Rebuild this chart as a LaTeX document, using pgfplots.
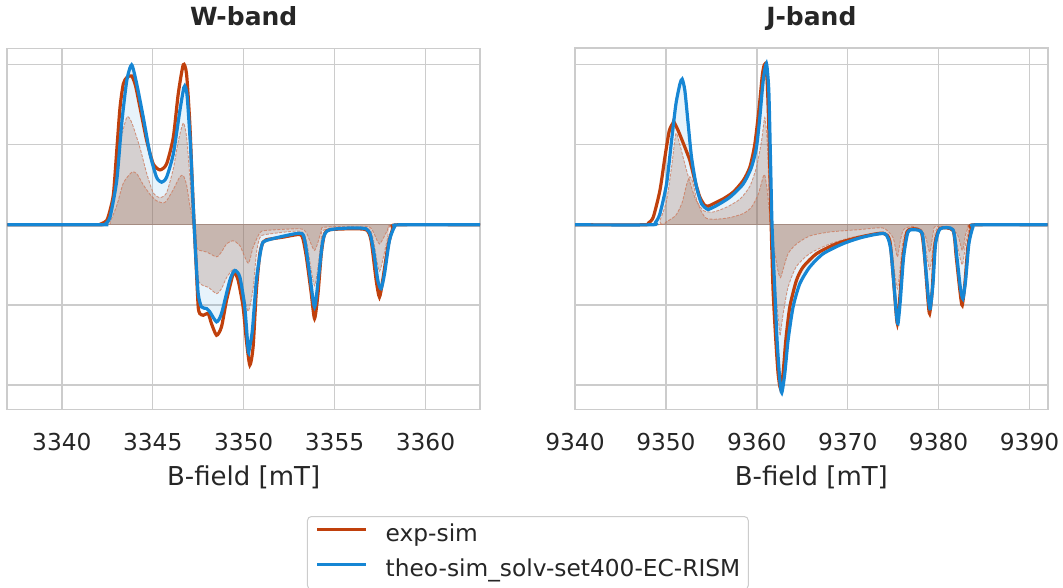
\documentclass[border=0pt]{standalone}
\usepackage{fontspec}
\setmainfont{DejaVu Sans}
\usepackage{pgfplots}
\usepackage{pgfplotstable}
\pgfplotsset{compat=1.18}

\definecolor{expc}{RGB}{192,64,12}
\definecolor{theoc}{RGB}{22,134,212}
\definecolor{gridc}{RGB}{204,204,204}
\definecolor{txtc}{RGB}{38,38,38}
\definecolor{brownc}{RGB}{158,105,80}
\definecolor{compc}{RGB}{205,120,90}
\definecolor{zeroc}{RGB}{165,140,130}

% ---------------- W-band data ----------------
\pgfplotstableread{
x y
3337 0
3342.0 0
3342.2 0.008
3342.47 0.027
3342.65 0.09
3342.84 0.193
3343.02 0.463
3343.20 0.733
3343.38 0.879
3343.57 0.920
3343.84 0.930
3344.05 0.87
3344.30 0.733
3344.67 0.525
3345.03 0.380
3345.40 0.343
3345.76 0.380
3346.13 0.546
3346.40 0.816
3346.68 1.0
3346.86 0.941
3347.04 0.629
3347.19 0.215
3347.32 -0.098
3347.41 -0.305
3347.50 -0.513
3347.59 -0.555
3347.78 -0.565
3348.05 -0.555
3348.23 -0.617
3348.51 -0.690
3348.78 -0.638
3349.06 -0.471
3349.42 -0.305
3349.51 -0.300
3349.70 -0.347
3349.97 -0.513
3350.15 -0.721
3350.34 -0.876
3350.52 -0.762
3350.70 -0.409
3350.89 -0.181
3351.07 -0.108
3351.25 -0.093
3352.17 -0.077
3353.08 -0.060
3353.26 -0.087
3353.45 -0.201
3353.72 -0.430
3353.90 -0.586
3354.09 -0.430
3354.27 -0.181
3354.45 -0.056
3354.73 -0.031
3355.83 -0.025
3356.74 -0.031
3357.01 -0.098
3357.29 -0.347
3357.47 -0.451
3357.65 -0.347
3357.93 -0.139
3358.20 -0.025
3358.48 0
3363 0
}\Worange

\pgfplotstableread{
x y
3337 0
3342.3 0
3342.38 0.004
3342.65 0.048
3343.02 0.277
3343.29 0.629
3343.57 0.899
3343.84 0.999
3344.12 0.879
3344.48 0.671
3344.85 0.442
3345.21 0.297
3345.49 0.266
3345.76 0.297
3346.13 0.442
3346.49 0.712
3346.71 0.858
3346.80 0.860
3346.90 0.795
3347.08 0.484
3347.23 0.110
3347.37 -0.201
3347.50 -0.430
3347.68 -0.513
3347.96 -0.523
3348.14 -0.544
3348.51 -0.606
3348.78 -0.555
3349.24 -0.347
3349.51 -0.285
3349.79 -0.326
3350.06 -0.513
3350.25 -0.783
3350.30 -0.783
3350.48 -0.659
3350.70 -0.347
3350.98 -0.139
3351.25 -0.098
3353.08 -0.052
3353.36 -0.098
3353.63 -0.305
3353.90 -0.513
3354.14 -0.305
3354.36 -0.098
3354.73 -0.031
3356.74 -0.025
3357.11 -0.139
3357.38 -0.347
3357.56 -0.399
3357.75 -0.305
3358.02 -0.098
3358.29 -0.015
3358.57 0
3363 0
}\Wtheo

\pgfplotstableread{
x y
3337 0
3342.2 0
3342.47 0.02
3342.84 0.15
3343.20 0.50
3343.57 0.671
3343.84 0.64
3344.30 0.48
3344.67 0.32
3345.03 0.20
3345.40 0.17
3345.76 0.20
3346.13 0.35
3346.40 0.52
3346.68 0.636
3346.86 0.55
3347.04 0.30
3347.19 0.05
3347.32 -0.20
3347.50 -0.35
3347.78 -0.38
3348.05 -0.39
3348.51 -0.43
3348.78 -0.40
3349.06 -0.33
3349.42 -0.28
3349.70 -0.31
3349.97 -0.42
3350.25 -0.54
3350.52 -0.40
3350.70 -0.18
3350.89 -0.08
3351.25 -0.06
3353.08 -0.04
3353.45 -0.10
3353.90 -0.38
3354.27 -0.10
3354.45 -0.03
3356.74 -0.02
3357.11 -0.08
3357.47 -0.29
3357.93 -0.08
3358.29 0
3363 0
}\WcompA

\pgfplotstableread{
x y
3337 0
3342.3 0
3342.65 0.02
3343.02 0.12
3343.38 0.26
3343.84 0.328
3344.12 0.32
3344.48 0.25
3344.85 0.19
3345.21 0.15
3345.58 0.137
3345.76 0.15
3346.13 0.22
3346.49 0.30
3346.68 0.307
3346.86 0.25
3347.04 0.12
3347.23 0.0
3347.41 -0.14
3347.59 -0.16
3347.96 -0.17
3348.51 -0.20
3348.78 -0.17
3349.06 -0.12
3349.42 -0.10
3349.79 -0.13
3350.25 -0.24
3350.52 -0.14
3350.89 -0.05
3351.25 -0.035
3353.08 -0.025
3353.45 -0.05
3353.90 -0.16
3354.27 -0.04
3354.45 -0.015
3356.74 -0.01
3357.11 -0.04
3357.47 -0.12
3357.93 -0.03
3358.29 0
3363 0
}\WcompB

% ---------------- J-band data ----------------
\pgfplotstableread{
x y
9340 0
9347.6 0
9348.1 0.012
9348.61 0.048
9349.34 0.214
9349.89 0.422
9350.37 0.587
9350.81 0.639
9350.88 0.643
9351.36 0.587
9352.09 0.484
9352.64 0.401
9353.19 0.276
9353.74 0.172
9354.29 0.120
9354.65 0.116
9355.20 0.131
9356.30 0.162
9357.40 0.204
9358.50 0.276
9359.23 0.359
9359.78 0.503
9360.26 0.733
9360.62 0.941
9360.88 1.003
9361.14 0.899
9361.36 0.525
9361.58 0.0
9361.79 -0.409
9362.09 -0.721
9362.34 -0.928
9362.60 -1.022
9362.89 -0.928
9363.19 -0.721
9363.63 -0.513
9364.36 -0.347
9365.09 -0.264
9366.56 -0.181
9368.75 -0.118
9371.32 -0.077
9373.88 -0.052
9374.62 -0.098
9374.98 -0.305
9375.27 -0.513
9375.46 -0.617
9375.71 -0.471
9376.08 -0.201
9376.52 -0.046
9377.18 -0.025
9378.10 -0.046
9378.46 -0.201
9378.83 -0.471
9379.01 -0.555
9379.30 -0.409
9379.56 -0.139
9380.11 -0.025
9381.58 -0.035
9381.94 -0.201
9382.38 -0.430
9382.60 -0.503
9382.89 -0.368
9383.22 -0.139
9383.59 -0.025
9383.96 0
9392 0
}\Jorange

\pgfplotstableread{
x y
9340 0
9348.4 0
9348.85 0.015
9349.34 0.069
9350.07 0.255
9350.62 0.525
9351.10 0.754
9351.54 0.879
9351.79 0.910
9352.09 0.837
9352.45 0.629
9352.82 0.421
9353.37 0.235
9353.92 0.131
9354.47 0.100
9354.65 0.095
9355.57 0.120
9357.03 0.172
9358.50 0.255
9359.41 0.359
9359.96 0.484
9360.33 0.671
9360.70 0.899
9361.06 1.007
9361.32 0.837
9361.50 0.421
9361.68 -0.015
9361.98 -0.409
9362.23 -0.721
9362.53 -0.970
9362.75 -1.049
9363.08 -0.928
9363.44 -0.721
9363.99 -0.513
9364.73 -0.368
9365.82 -0.264
9367.29 -0.181
9369.49 -0.118
9371.68 -0.077
9374.07 -0.056
9374.69 -0.139
9375.05 -0.347
9375.35 -0.555
9375.53 -0.617
9375.79 -0.471
9376.15 -0.201
9376.63 -0.046
9377.36 -0.031
9378.21 -0.056
9378.57 -0.264
9378.90 -0.471
9379.08 -0.524
9379.38 -0.368
9379.67 -0.118
9380.18 -0.025
9381.58 -0.031
9382.01 -0.201
9382.38 -0.388
9382.67 -0.461
9382.97 -0.347
9383.33 -0.118
9383.77 -0.015
9384.14 0
9392 0
}\Jtheo

\pgfplotstableread{
x y
9340 0
9348.9 0
9349.34 0.027
9350.07 0.15
9350.62 0.36
9351.10 0.57
9351.54 0.50
9352.27 0.34
9353.19 0.17
9354.10 0.09
9355.20 0.08
9356.67 0.11
9358.13 0.16
9359.23 0.24
9359.96 0.36
9360.51 0.52
9360.88 0.67
9361.14 0.52
9361.36 0.21
9361.58 0
9361.87 -0.26
9362.16 -0.47
9362.53 -0.68
9362.60 -0.68
9362.89 -0.56
9363.44 -0.39
9364.36 -0.26
9365.82 -0.18
9368.02 -0.12
9370.59 -0.077
9373.88 -0.05
9374.62 -0.09
9375.16 -0.30
9375.46 -0.40
9375.71 -0.30
9376.08 -0.10
9376.52 -0.03
9377.18 -0.02
9378.10 -0.03
9378.57 -0.15
9379.01 -0.28
9379.38 -0.15
9379.67 -0.04
9380.11 -0.015
9381.58 -0.02
9382.01 -0.12
9382.60 -0.25
9382.97 -0.12
9383.33 -0.03
9383.77 0
9392 0
}\JcompA

\pgfplotstableread{
x y
9340 0
9349.0 0
9350.07 0.02
9351.10 0.06
9351.79 0.14
9352.27 0.25
9352.64 0.30
9353.00 0.26
9353.37 0.16
9353.92 0.08
9354.47 0.04
9355.57 0.035
9357.03 0.045
9358.50 0.07
9359.41 0.11
9360.15 0.19
9360.70 0.30
9360.88 0.31
9361.14 0.22
9361.36 0.09
9361.55 0
9361.87 -0.14
9362.34 -0.29
9362.60 -0.33
9362.89 -0.28
9363.44 -0.18
9364.36 -0.12
9365.82 -0.07
9368.02 -0.045
9371.32 -0.03
9373.88 -0.02
9374.98 -0.08
9375.46 -0.20
9375.79 -0.10
9376.15 -0.03
9377.18 -0.01
9378.46 -0.06
9379.01 -0.17
9379.38 -0.06
9379.67 -0.01
9381.94 -0.05
9382.60 -0.16
9382.97 -0.06
9383.33 -0.01
9383.77 0
9392 0
}\JcompB

\pgfplotsset{
  panel/.style={
    scale only axis, width=472.7pt, height=361pt,
    ymin=-1.1525, ymax=1.1025,
    ytick={-1,-0.5,0,0.5,1}, yticklabel={\mbox{}},
    grid=major, major grid style={gridc, line width=1.4pt},
    axis line style={gridc, line width=1.6pt},
    major tick length=0pt,
    /pgf/number format/assume math mode=true,
    /pgf/number format/1000 sep={},
    tick label style={font=\fontsize{23.3}{28}\selectfont, text=txtc},
    xticklabel style={anchor=base, yshift=-40.7pt},
    xlabel={B-field [mT]},
    xlabel style={font=\fontsize{26}{30}\selectfont, text=txtc, at={(axis description cs:0.5,0)}, anchor=base, yshift=-75.7pt},
    title style={font=\bfseries\fontsize{25}{30}\selectfont, text=txtc, at={(axis description cs:0.5,1)}, anchor=base, yshift=16.6pt},
  },
  bfill/.style={fill=brownc, fill opacity=0.25, draw=none, smooth, tension=0.4, forget plot},
  tfill/.style={fill=theoc, fill opacity=0.1, draw=none, smooth, tension=0.4, forget plot},
  cline/.style={compc, draw opacity=0.75, line width=0.9pt, dash pattern=on 3pt off 1.5pt, smooth, tension=0.4, forget plot},
  eline/.style={expc, line width=3.2pt, smooth, tension=0.4},
  tline/.style={theoc, line width=3.2pt, smooth, tension=0.4},
}

\begin{document}
\begin{tikzpicture}
\begin{axis}[panel, at={(7.3pt,177.7pt)}, anchor=south west,
  xmin=3337, xmax=3363, xtick={3340,3345,3350,3355,3360},
  title={W-band},
  legend style={at={(axis description cs:0.634,-0.2956)}, anchor=north west,
    draw=gridc, line width=1pt, rounded corners=4pt, fill=white,
    font=\fontsize{23.3}{28}\selectfont, text=txtc,
    inner xsep=8pt, inner ysep=7.5pt, row sep=12pt, cells={anchor=west},
    nodes={inner sep=0pt, text height=17pt, text depth=6pt}},
  legend image code/.code={\draw[#1, line width=3.2pt] (0pt,6pt) -- (49pt,6pt); \path (67pt,6pt);},
]
\addplot[tfill] table {\Wtheo} \closedcycle;
\addplot[bfill] table {\WcompA} \closedcycle;
\addplot[bfill] table {\WcompB} \closedcycle;
\addplot[zeroc, line width=1.4pt, forget plot] coordinates {(3337,0) (3363,0)};
\addplot[cline] table {\WcompA};
\addplot[cline] table {\WcompB};
\addplot[eline] table {\Worange};
\addplot[tline] table {\Wtheo};
\legend{exp-sim, theo-sim\_solv-set400-EC-RISM}
\end{axis}
\begin{axis}[panel, at={(575pt,177.7pt)}, anchor=south west,
  xmin=9340, xmax=9392, xtick={9340,9350,9360,9370,9380,9390},
  title={J-band},
]
\addplot[tfill] table {\Jtheo} \closedcycle;
\addplot[bfill] table {\JcompA} \closedcycle;
\addplot[bfill] table {\JcompB} \closedcycle;
\addplot[zeroc, line width=1.4pt, forget plot] coordinates {(9340,0) (9392,0)};
\addplot[cline] table {\JcompA};
\addplot[cline] table {\JcompB};
\addplot[eline] table {\Jorange};
\addplot[tline] table {\Jtheo};
\end{axis}
\pgfresetboundingbox
\useasboundingbox (0,0) rectangle (1063pt,587pt);
\end{tikzpicture}
\end{document}
